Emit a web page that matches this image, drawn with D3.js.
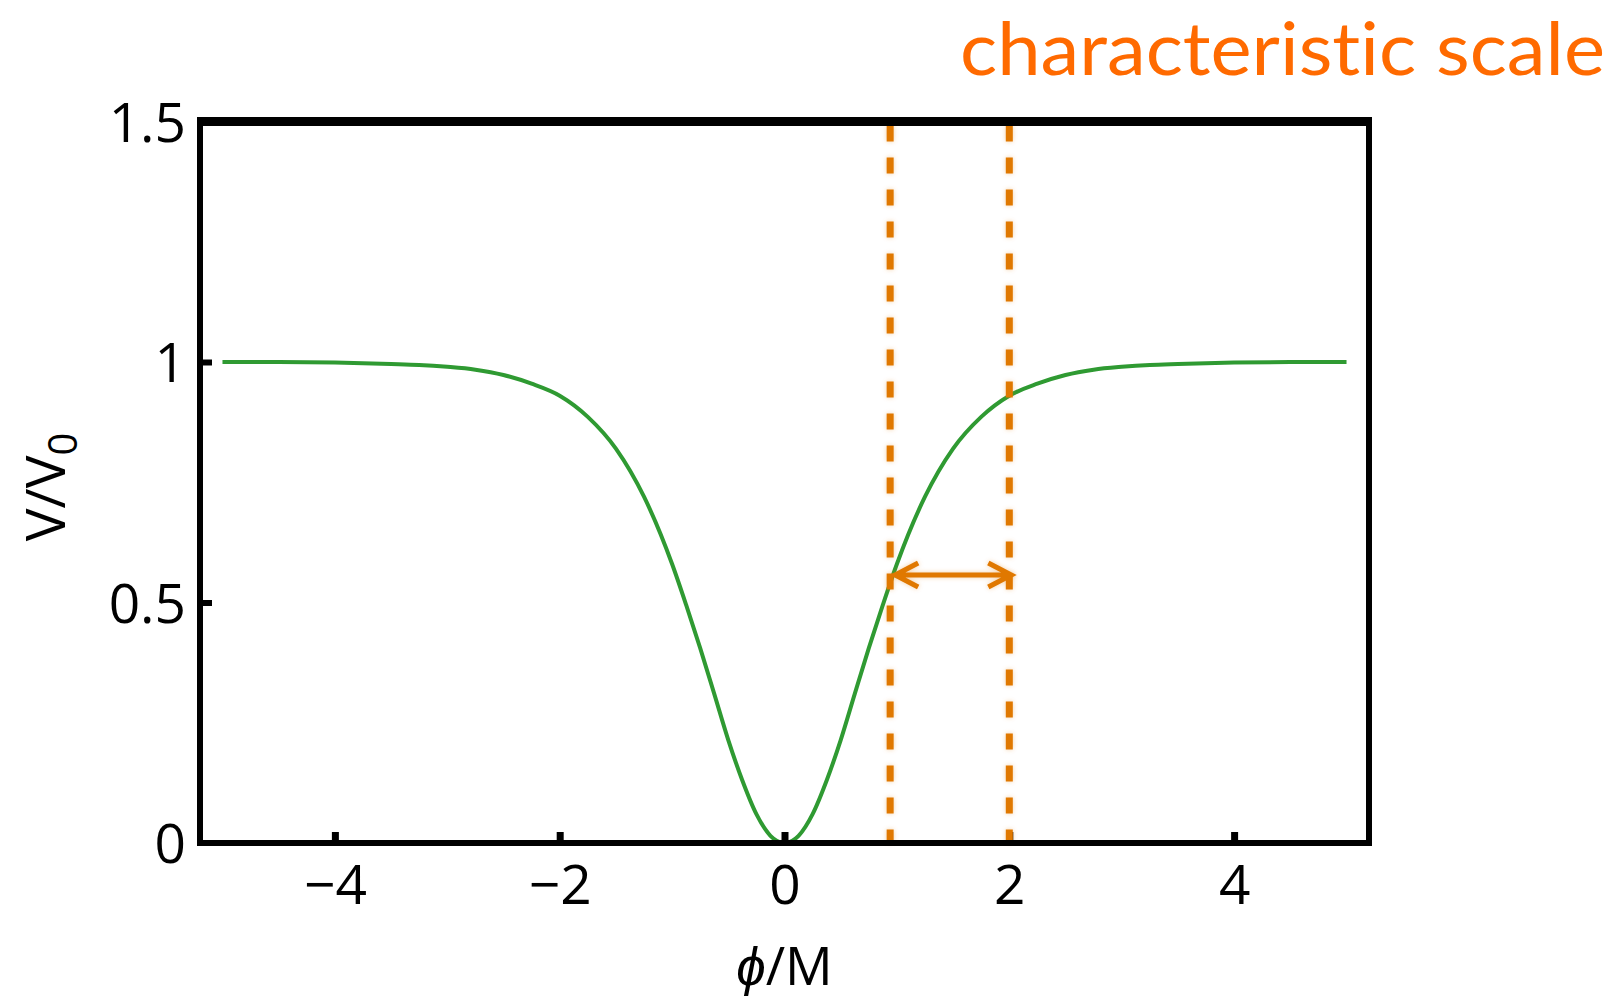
<!DOCTYPE html>
<html>
<head>
<meta charset="utf-8">
<script src="https://cdn.jsdelivr.net/npm/d3@7"></script>
<style>
  html, body { margin: 0; padding: 0; background: #fff; }
  svg { display: block; }
  .tick text { font-family: "Open Sans", sans-serif; font-size: 55px; fill: #000; }
</style>
</head>
<body>
<div id="chart"></div>
<script>
// --- Data ---
const phiValues = [-5, -4.5, -4, -3.5, -3.25, -3, -2.75, -2.5, -2.25, -2, -1.75, -1.5, -1.25, -1, -0.875, -0.75, -0.625, -0.5, -0.375, -0.25, -0.125, 0,
                   0.125, 0.25, 0.375, 0.5, 0.625, 0.75, 0.875, 1, 1.25, 1.5, 1.75, 2, 2.25, 2.5, 2.75, 3, 3.25, 3.5, 4, 4.5, 5];
const potentialValues = [1.0, 1.0, 0.999, 0.996, 0.994, 0.99, 0.984, 0.973, 0.955, 0.93, 0.886, 0.82, 0.72, 0.58, 0.495, 0.405, 0.31, 0.214, 0.13, 0.06, 0.015, 0,
                         0.015, 0.06, 0.13, 0.214, 0.31, 0.405, 0.495, 0.58, 0.72, 0.82, 0.886, 0.93, 0.955, 0.973, 0.984, 0.99, 0.994, 0.996, 0.999, 1.0, 1.0];
const xTicks = [-4, -2, 0, 2, 4];
const yTicks = [0, 0.5, 1, 1.5];
const yTickLabels = ["0", "0.5", "1", "1.5"];
const scaleMarkers = [0.94, 2.0];   // dashed verticals
const arrowLevel = 0.557;           // height of the double arrow

// --- Setup ---
const width = 1619, height = 1004;
const margin = { top: 121.5, right: 250, bottom: 161, left: 200 };

const svg = d3.select("#chart").append("svg")
    .attr("width", width)
    .attr("height", height);

const x = d3.scaleLinear().domain([-5.2, 5.2]).range([margin.left, width - margin.right]);
const y = d3.scaleLinear().domain([0, 1.5]).range([height - margin.bottom, margin.top]);

// soft halo around the orange marks (user space region: lines have no width)
const defs = svg.append("defs");
const glow = defs.append("filter").attr("id", "glow")
    .attr("filterUnits", "userSpaceOnUse")
    .attr("x", 0).attr("y", 0).attr("width", width).attr("height", height);
glow.append("feGaussianBlur").attr("in", "SourceGraphic").attr("stdDeviation", 2.5).attr("result", "blur");
glow.append("feComponentTransfer").attr("in", "blur").attr("result", "soft")
    .append("feFuncA").attr("type", "linear").attr("slope", 0.35);
const merge = glow.append("feMerge");
merge.append("feMergeNode").attr("in", "soft");
merge.append("feMergeNode").attr("in", "SourceGraphic");

// --- Axes (ticks pointing inward) ---
const xAxis = svg.append("g")
    .attr("transform", `translate(0,${y(0)})`)
    .call(d3.axisBottom(x).tickValues(xTicks).tickSize(-11).tickPadding(22));
const yAxis = svg.append("g")
    .attr("transform", `translate(${x.range()[0]},0)`)
    .call(d3.axisLeft(y).tickValues(yTicks).tickSize(-12).tickPadding(14)
        .tickFormat((d, i) => yTickLabels[i]));

[xAxis, yAxis].forEach(g => {
    g.select(".domain").remove();
    g.selectAll(".tick line").attr("stroke", "#000");
});
xAxis.selectAll(".tick line").attr("stroke-width", 7);
yAxis.selectAll(".tick line").attr("stroke-width", 6);
// corner ticks are hidden by the frame anyway
yAxis.selectAll(".tick").filter(d => d === 0 || d === 1.5).select("line").remove();
yAxis.selectAll(".tick text").attr("dy", "0.36em");

// --- Curve ---
const curve = d3.line()
    .x((d, i) => x(phiValues[i]))
    .y(d => y(d))
    .curve(d3.curveMonotoneX);

svg.append("path")
    .datum(potentialValues)
    .attr("fill", "none")
    .attr("stroke", "#2f9a32")
    .attr("stroke-width", 4)
    .attr("d", curve);

// --- Dashed markers ---
svg.selectAll("line.marker")
    .data(scaleMarkers)
    .enter().append("line")
    .attr("class", "marker")
    .attr("x1", d => x(d)).attr("x2", d => x(d))
    .attr("y1", y(1.5) + 4).attr("y2", y(0))
    .attr("stroke", "#e07800")
    .attr("stroke-width", 7)
    .attr("stroke-dasharray", "16 16")
    .style("filter", "url(#glow)");

// --- Double arrow ---
const ax1 = x(scaleMarkers[0]) + 5, ax2 = x(scaleMarkers[1]) + 2, ay = y(arrowLevel);
const headL = 23, headH = 12;
svg.append("path")
    .attr("fill", "none")
    .attr("stroke", "#e07800")
    .attr("stroke-width", 5)
    .attr("stroke-linejoin", "miter")
    .attr("d", `M${ax1},${ay} L${ax2},${ay}
                M${ax1 + headL},${ay - headH} L${ax1},${ay} L${ax1 + headL},${ay + headH}
                M${ax2 - headL},${ay - headH} L${ax2},${ay} L${ax2 - headL},${ay + headH}`)
    .style("filter", "url(#glow)");

// --- Frame ---
const [fx0, fx1] = x.range();
const fy0 = y(1.5), fy1 = y(0);
svg.append("rect")
    .attr("x", fx0).attr("y", fy0)
    .attr("width", fx1 - fx0).attr("height", fy1 - fy0)
    .attr("fill", "none")
    .attr("stroke", "#000")
    .attr("stroke-width", 6);
svg.append("line")
    .attr("x1", fx0 - 3).attr("x2", fx1 + 3)
    .attr("y1", fy0).attr("y2", fy0)
    .attr("stroke", "#000")
    .attr("stroke-width", 9);

// --- Axis labels ---
const xLabel = svg.append("text")
    .attr("x", x(0)).attr("y", 985)
    .attr("text-anchor", "middle")
    .style("font-family", "'Open Sans', sans-serif")
    .style("font-size", "53px");
xLabel.append("tspan").style("font-style", "italic").text("ϕ");
xLabel.append("tspan").text("/M");

const yLabel = svg.append("text")
    .attr("transform", `translate(65,${487}) rotate(-90)`)
    .attr("text-anchor", "middle")
    .style("font-family", "'Open Sans', sans-serif")
    .style("font-size", "55px");
yLabel.append("tspan").text("V/V");
yLabel.append("tspan").attr("dy", 12).style("font-size", "40px").text("0");

// --- Title annotation ---
svg.append("text")
    .attr("x", 960).attr("y", 75)
    .attr("textLength", 645)
    .attr("lengthAdjust", "spacingAndGlyphs")
    .style("font-family", "Lato, sans-serif")
    .style("font-size", "74px")
    .style("font-variant-ligatures", "none")
    .style("fill", "#ff6a00")
    .text("characteristic scale");
</script>
</body>
</html>
